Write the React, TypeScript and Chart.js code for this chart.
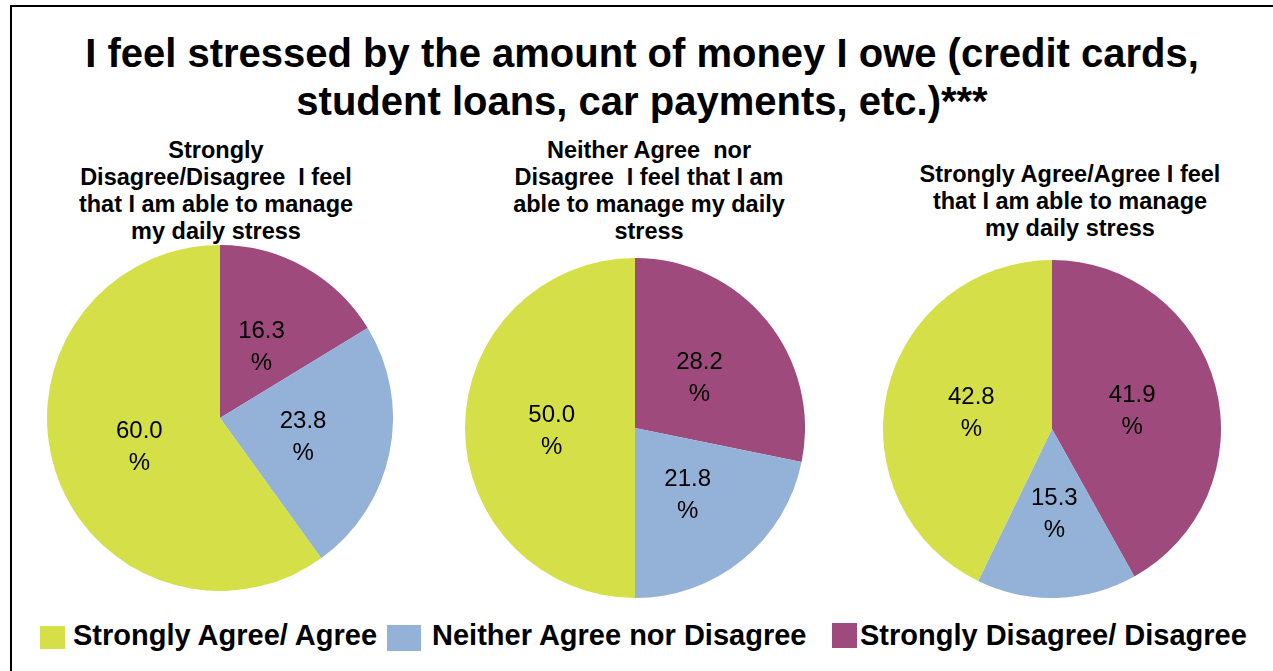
import React, { useEffect, useRef } from "react";
import { Chart, registerables } from "chart.js";

Chart.register(...registerables);

// ---- data ----
const sliceCategories = [
  "Strongly Disagree/ Disagree",
  "Neither Agree nor Disagree",
  "Strongly Agree/ Agree",
];
const sliceColors = ["#9E4A7C", "#94B1D7", "#D5DF48"];

const pie1Values = [16.3, 23.8, 60.0];
const pie2Values = [28.2, 21.8, 50.0];
const pie3Values = [41.9, 15.3, 42.8];

const mainTitle = [
  "I feel stressed by the amount of money I owe (credit cards,",
  "student loans, car payments, etc.)***",
];
const pie1Title = ["Strongly", "Disagree/Disagree  I feel", "that I am able to manage", "my daily stress"];
const pie2Title = ["Neither Agree  nor", "Disagree  I feel that I am", "able to manage my daily", "stress"];
const pie3Title = ["Strongly Agree/Agree I feel", "that I am able to manage", "my daily stress"];

// legend order (as in the reference)
const legendOrder = [2, 1, 0];

const FONT = "'Liberation Sans', Arial, Helvetica, sans-serif";

const labelPlugin = {
  id: "pieLabels",
  afterDatasetsDraw(chart: any) {
    const ctx = chart.ctx;
    const meta = chart.getDatasetMeta(0);
    const values = chart.data.datasets[0].data as number[];
    ctx.save();
    ctx.font = `24px ${FONT}`;
    ctx.fillStyle = "#000";
    ctx.textAlign = "center";
    ctx.textBaseline = "middle";
    meta.data.forEach((arc: any, i: number) => {
      const p = arc.getProps(["x", "y", "startAngle", "endAngle", "outerRadius"], true);
      const mid = (p.startAngle + p.endAngle) / 2;
      const d = p.outerRadius * 0.49;
      const x = p.x + Math.cos(mid) * d;
      const y = p.y + Math.sin(mid) * d;
      ctx.fillText(values[i].toFixed(1), x, y - 13);
      ctx.fillText("%", x, y + 19);
    });
    ctx.restore();
  },
};

function PieCanvas(props: { values: number[]; left: number; top: number; size: number }) {
  const ref = useRef<HTMLCanvasElement | null>(null);
  useEffect(() => {
    if (!ref.current) return;
    const chart = new Chart(ref.current, {
      type: "pie",
      data: {
        labels: sliceCategories,
        datasets: [
          {
            data: props.values,
            backgroundColor: sliceColors,
            borderWidth: 0,
          },
        ],
      },
      options: {
        responsive: false,
        animation: false,
        layout: { padding: 0 },
        plugins: {
          legend: { display: false },
          tooltip: { enabled: false },
          title: { display: false },
        },
      },
      plugins: [labelPlugin],
    });
    return () => chart.destroy();
  }, []);
  return (
    <canvas
      ref={ref}
      width={props.size}
      height={props.size}
      style={{ position: "absolute", left: props.left, top: props.top, width: props.size, height: props.size }}
    />
  );
}

function TextBlock(props: { lines: string[]; cx: number; top: number; size: number; lh: number }) {
  return (
    <div
      style={{
        position: "absolute",
        left: props.cx,
        top: props.top,
        transform: "translateX(-50%)",
        whiteSpace: "pre",
        textAlign: "center",
        fontFamily: FONT,
        fontWeight: "bold",
        fontSize: props.size,
        lineHeight: `${props.lh}px`,
        color: "#000",
      }}
    >
      {props.lines.join("\n")}
    </div>
  );
}

const legendBoxes = [
  { x: 40, y: 626, w: 25, h: 23, tx: 73 },
  { x: 387, y: 625, w: 34, h: 26, tx: 432 },
  { x: 832, y: 623, w: 25, h: 25, tx: 860 },
];

export default function App() {
  return (
    <div
      style={{
        position: "fixed",
        left: 0,
        top: 0,
        width: 1273,
        height: 671,
        background: "#fff",
        overflow: "hidden",
      }}
    >
      <div
        style={{
          position: "absolute",
          left: 10,
          top: 5,
          width: 1300,
          height: 700,
          borderLeft: "2px solid #000",
          borderTop: "2px solid #000",
        }}
      />
      <TextBlock lines={mainTitle} cx={642} top={29} size={40} lh={48} />
      <TextBlock lines={pie1Title} cx={216} top={137} size={23.5} lh={27} />
      <TextBlock lines={pie2Title} cx={649} top={137} size={23.5} lh={27} />
      <TextBlock lines={pie3Title} cx={1070} top={161} size={23.5} lh={27} />

      <PieCanvas values={pie1Values} left={47} top={245} size={346} />
      <PieCanvas values={pie2Values} left={465} top={258} size={340} />
      <PieCanvas values={pie3Values} left={883} top={260} size={338} />

      {legendOrder.map((idx, k) => {
        const b = legendBoxes[k];
        return (
          <React.Fragment key={idx}>
            <div
              style={{
                position: "absolute",
                left: b.x,
                top: b.y,
                width: b.w,
                height: b.h,
                background: sliceColors[idx],
              }}
            />
            <div
              style={{
                position: "absolute",
                left: b.tx,
                top: 621,
                whiteSpace: "pre",
                fontFamily: FONT,
                fontWeight: "bold",
                fontSize: 29,
                lineHeight: "29px",
                color: "#000",
              }}
            >
              {sliceCategories[idx]}
            </div>
          </React.Fragment>
        );
      })}
    </div>
  );
}
